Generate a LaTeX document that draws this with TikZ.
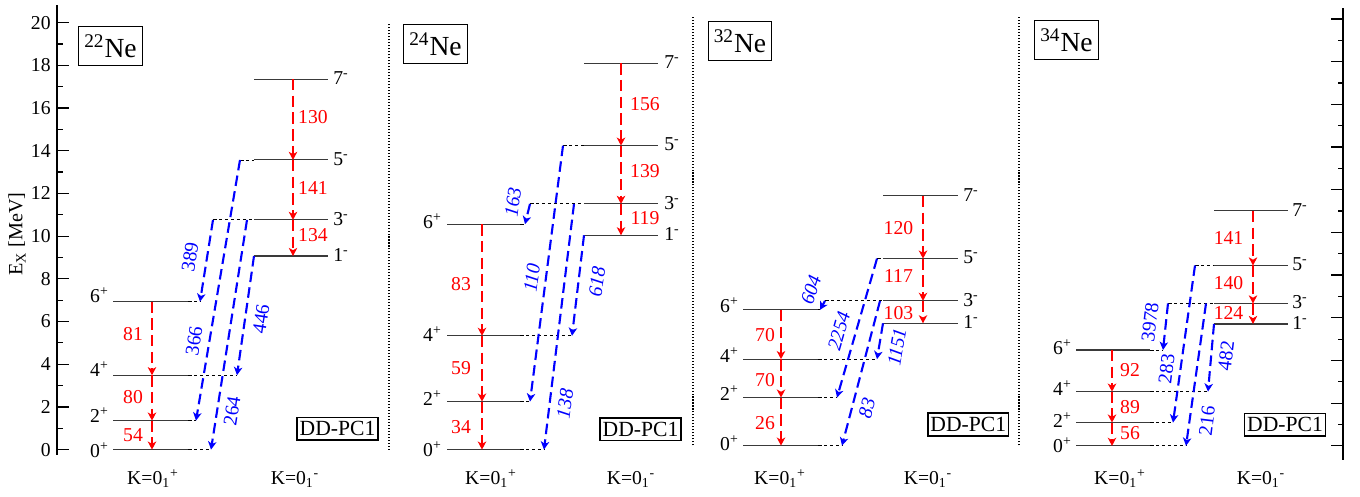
\documentclass[tikz,border=0pt]{standalone}
\usepackage{fontspec}
\setmainfont{Liberation Serif}
\usepackage{tikz}
\usetikzlibrary{arrows.meta,positioning}
\usepackage{xcolor}
\definecolor{decayred}{HTML}{FF0000}
\definecolor{crossblue}{HTML}{0000FF}
\definecolor{lvlgray}{HTML}{3A3A3A}
\newcommand{\pp}{\textsuperscript{+}}
\newcommand{\mm}{\textsuperscript{-}}
\tikzset{level/.style={draw=lvlgray,line width=.6pt}, levelext/.style={draw=black,line width=.5pt,dash pattern=on 2pt off 1.4pt},
 decay/.style={draw=decayred,line width=1.2pt,dash pattern=on 6.5pt off 3pt,-{Stealth[length=4.6pt,width=4.8pt,inset=1.3pt]}},
 cross/.style={draw=crossblue,line width=1.2pt,dash pattern=on 6pt off 3pt,-{Stealth[length=4.6pt,width=4.8pt,inset=1.3pt]}},
 txt/.style={font=\fontsize{11.2}{13}\selectfont,inner sep=0pt}, spinl/.style={txt,anchor=base east}, spinr/.style={txt,anchor=base west,yshift=-3pt},
 redlab/.style={txt,text=decayred}, bluelab/.style={txt,text=crossblue},
 namebox/.style={draw,line width=.6pt,font=\fontsize{15.7}{18}\selectfont,minimum width=36pt,minimum height=22pt,inner sep=1pt},
 modelbox/.style={draw,line width=.8pt,font=\fontsize{12.3}{14}\selectfont,minimum width=46pt,minimum height=13pt,inner sep=1pt},
 sep/.style={draw=black,line width=.7pt,dash pattern=on .6pt off 1.1pt}, axisline/.style={draw=black,line width=.7pt}}

\begin{document}
\begin{tikzpicture}[x=0.02cm,y=0.427cm]
\useasboundingbox (0,-2.215) rectangle (1360,21.063);
% axes and separators
\draw[axisline] (57,-0.25) -- (57,20.83);
\foreach \tk in {0,...,20} \draw[axisline] (57,\tk) -- ++(6,0);
\foreach \tk in {0,2,...,20}{\draw[axisline] (57,\tk) -- ++(12,0); \node[txt,anchor=east] (tick\tk) at (51,\tk) {\tk};}
\node[txt,rotate=90,font=\fontsize{11.5}{13}\selectfont] (ex) at (17,10.1) {E\textsubscript{X} [MeV]};
\draw[sep] (389,0) -- (389,20); \draw[sep] (693,0.2) -- (693,20.27); \draw[sep] (1019,0.2) -- (1019,20.27);
\begin{scope}[yshift=0.075cm]
\draw[axisline] (1343,-0.65) -- (1343,20.5);
\foreach \tk in {0,...,20} \draw[axisline] (1343,\tk) -- ++(-5,0);
\foreach \tk in {0,2,...,20} \draw[axisline] (1343,\tk) -- ++(-12,0);
\end{scope}

% 22Ne
\foreach \n/\e/\r/\s in {0/0/211/-4.5pt,2/1.358/196/-1pt,4/3.485/237/-1pt,6/6.93/200/-0.5pt}{
 \draw[level] (113,\e) -- (188,\e); \draw[levelext] (188,\e) -- (\r,\e) coordinate (a\n pR);
 \coordinate (a\n pK) at (152,\e); \node[spinl,yshift=\s] (a\n pS) at (109,\e) {\n\pp};}
\foreach \n/\e/\l in {1/9.07/254,3/10.76/213,5/13.57/240,7/17.36/254}{
 \draw[levelext] (\l,\e) coordinate (a\n mL) -- (254,\e); \draw[level] (254,\e) -- (328,\e);
 \coordinate (a\n mK) at (293,\e); \node[spinr] (a\n mS) at (333,\e) {\n\mm};}
\foreach \u/\d in {6/4,4/2,2/0} \draw[decay] (a\u pK) -- (a\d pK);
\foreach \u/\d in {7/5,5/3,3/1} \draw[decay] (a\u mK) -- (a\d mK);
\coordinate (a3mB) at (247,10.76);
\draw[cross] (a3mL) -- (a6pR); \draw[cross] (a5mL) -- (a2pR); \draw[cross] (a1mL) -- (a4pR); \draw[cross] (a3mB) -- (a0pR);
\foreach \v/\x/\e in {81/133/5.42,80/133/2.48,54/133/0.69,130/313/15.58,141/313/12.27,134/313/10.06} \node[redlab] (ar\v) at (\x,\e) {\v};
\foreach \v/\x/\e in {389/190/9.02,366/194/5.09,446/261/6.12,264/232/1.81} \node[bluelab,rotate=81] (ab\v) at (\x,\e) {\v};
\node[namebox] (ne22) at (110.5,18.90) {\textsuperscript{22}Ne};
\node[modelbox] (pc22) at (337.5,0.98) {DD-PC1};
\node[txt,anchor=base] (k22p) at (153,-1.65) {K=0\textsubscript{1}\pp}; \node[txt,anchor=base] (k22m) at (295,-1.65) {K=0\textsubscript{1}\mm};

% 24Ne
\foreach \n/\e/\r/\s in {0/0/544/-3.8pt,2/2.25/530/-2.2pt,4/5.33/572/-3.4pt,6/10.56/525/-2.7pt}{
 \draw[level] (447,\e) -- (520,\e); \draw[levelext] (520,\e) -- (\r,\e) coordinate (b\n pR);
 \coordinate (b\n pK) at (482,\e); \node[spinl,yshift=\s] (b\n pS) at (442,\e) {\n\pp};}
\foreach \n/\e/\l in {1/10.04/584,3/11.51/530,5/14.24/563,7/18.10/584}{
 \draw[levelext] (\l,\e) coordinate (b\n mL) -- (584,\e); \draw[level] (584,\e) -- (658,\e);
 \coordinate (b\n mK) at (621,\e); \node[spinr] (b\n mS) at (664,\e) {\n\mm};}
\foreach \u/\d in {6/4,4/2,2/0} \draw[decay] (b\u pK) -- (b\d pK);
\foreach \u/\d in {7/5,5/3,3/1} \draw[decay] (b\u mK) -- (b\d mK);
\coordinate (b3mB) at (574,11.51);
\draw[cross] (b3mL) -- (b6pR); \draw[cross] (b5mL) -- (b2pR); \draw[cross] (b1mL) -- (b4pR); \draw[cross] (b3mB) -- (b0pR);
\foreach \v/\x/\e in {83/461/7.75,59/461/3.83,34/461/1.06,156/645/16.19,139/645/13.05,119/645/10.85} \node[redlab] (br\v) at (\x,\e) {\v};
\foreach \v/\x/\e in {163/513/11.59,110/532/8.04,618/597/7.86,138/565/2.14} \node[bluelab,rotate=82,font=\fontsize{11.2}{13}\selectfont\itshape] (bb\v) at (\x,\e) {\v};
\node[namebox] (ne24) at (435.5,18.99) {\textsuperscript{24}Ne};
\node[modelbox] (pc24) at (640.5,0.955) {DD-PC1};
\node[txt,anchor=base] (k24p) at (491,-1.65) {K=0\textsubscript{1}\pp}; \node[txt,anchor=base] (k24m) at (631,-1.65) {K=0\textsubscript{1}\mm};

% 32Ne
\begin{scope}[yshift=0.08cm]
\foreach \n/\e/\r/\s in {0/0/842/-2.85pt,2/2.25/837/-1.6pt,4/4.05/877/-1.8pt,6/6.36/820/-1.4pt}{
 \draw[level] (743,\e) -- (818,\e); \draw[levelext] (818,\e) -- (\r,\e) coordinate (c\n pR);
 \coordinate (c\n pK) at (781,\e); \node[spinl,yshift=\s] (c\n pS) at (739,\e) {\n\pp};}
\foreach \n/\e/\l in {1/5.73/883,3/6.78/825,5/8.76/877,7/11.70/883}{
 \draw[levelext] (\l,\e) coordinate (c\n mL) -- (883,\e); \draw[level] (883,\e) -- (958,\e);
 \coordinate (c\n mK) at (923,\e); \node[spinr] (c\n mS) at (963,\e) {\n\mm};}
\foreach \u/\d in {6/4,4/2,2/0} \draw[decay] (c\u pK) -- (c\d pK);
\foreach \u/\d in {7/5,5/3,3/1} \draw[decay] (c\u mK) -- (c\d mK);
\coordinate (c3mB) at (880,6.78);
\draw[cross] (c3mL) -- (c6pR); \draw[cross] (c5mL) -- (c2pR); \draw[cross] (c1mL) -- (c4pR); \draw[cross] (c3mB) -- (c0pR);
\foreach \v/\x/\e [count=\i] in {70/765/5.18,70/765/3.08,26/765/1.05,120/898.5/10.18,117/898.5/7.95,103/898.5/6.23} \node[redlab] (cr\i) at (\x,\e) {\v};
\foreach \v/\x/\e/\a in {604/811/7.3/72,2254/839/5.37/74,1151/897/4.62/80,83/867/1.77/75} \node[bluelab,rotate=\a,font=\fontsize{11.2}{13}\selectfont\itshape] (cb\v) at (\x,\e) {\v};
\end{scope}
\node[namebox] (ne32) at (740,19.13) {\textsuperscript{32}Ne};
\node[modelbox] (pc32) at (968.3,1.18) {DD-PC1};
\node[txt,anchor=base] (k32p) at (780,-1.65) {K=0\textsubscript{1}\pp}; \node[txt,anchor=base] (k32m) at (928,-1.65) {K=0\textsubscript{1}\mm};

% 34Ne
\begin{scope}[yshift=0.075cm]
\foreach \n/\e/\r/\s in {0/0/1186/-3.5pt,2/1.09/1173/-2.6pt,4/2.54/1208/-2pt,6/4.49/1163/-2.3pt}{
 \draw[level] (1076,\e) -- (1150,\e); \draw[levelext] (1150,\e) -- (\r,\e) coordinate (d\n pR);
 \coordinate (d\n pK) at (1112,\e); \node[spinl,yshift=\s] (d\n pS) at (1072,\e) {\n\pp};}
\foreach \n/\e/\l in {1/5.71/1214,3/6.67/1168,5/8.45/1195,7/11.01/1214}{
 \draw[levelext] (\l,\e) coordinate (d\n mL) -- (1214,\e); \draw[level] (1214,\e) -- (1288,\e);
 \coordinate (d\n mK) at (1253,\e); \node[spinr] (d\n mS) at (1292,\e) {\n\mm};}
\foreach \u/\d in {6/4,4/2,2/0} \draw[decay] (d\u pK) -- (d\d pK);
\foreach \u/\d in {7/5,5/3,3/1} \draw[decay] (d\u mK) -- (d\d mK);
\coordinate (d3mB) at (1206,6.67);
\draw[cross] (d3mL) -- (d6pR); \draw[cross] (d5mL) -- (d2pR); \draw[cross] (d1mL) -- (d4pR); \draw[cross] (d3mB) -- (d0pR);
\foreach \v/\x/\e in {92/1130/3.55,89/1130/1.84,56/1130/0.59,141/1228.5/9.76,140/1228.5/7.61,124/1228.5/6.21} \node[redlab] (dr\v) at (\x,\e) {\v};
\foreach \v/\x/\e in {3978/1150/5.80,283/1166.5/3.60,482/1226/4.21,216/1207/1.17} \node[bluelab,rotate=83] (db\v) at (\x,\e) {\v};
\end{scope}
\node[namebox] (ne34) at (1066.5,19.18) {\textsuperscript{34}Ne};
\node[modelbox] (pc34) at (1285,1.17) {DD-PC1};
\node[txt,anchor=base] (k34p) at (1120,-1.65) {K=0\textsubscript{1}\pp}; \node[txt,anchor=base] (k34m) at (1261,-1.65) {K=0\textsubscript{1}\mm};
\end{tikzpicture}
\end{document}
